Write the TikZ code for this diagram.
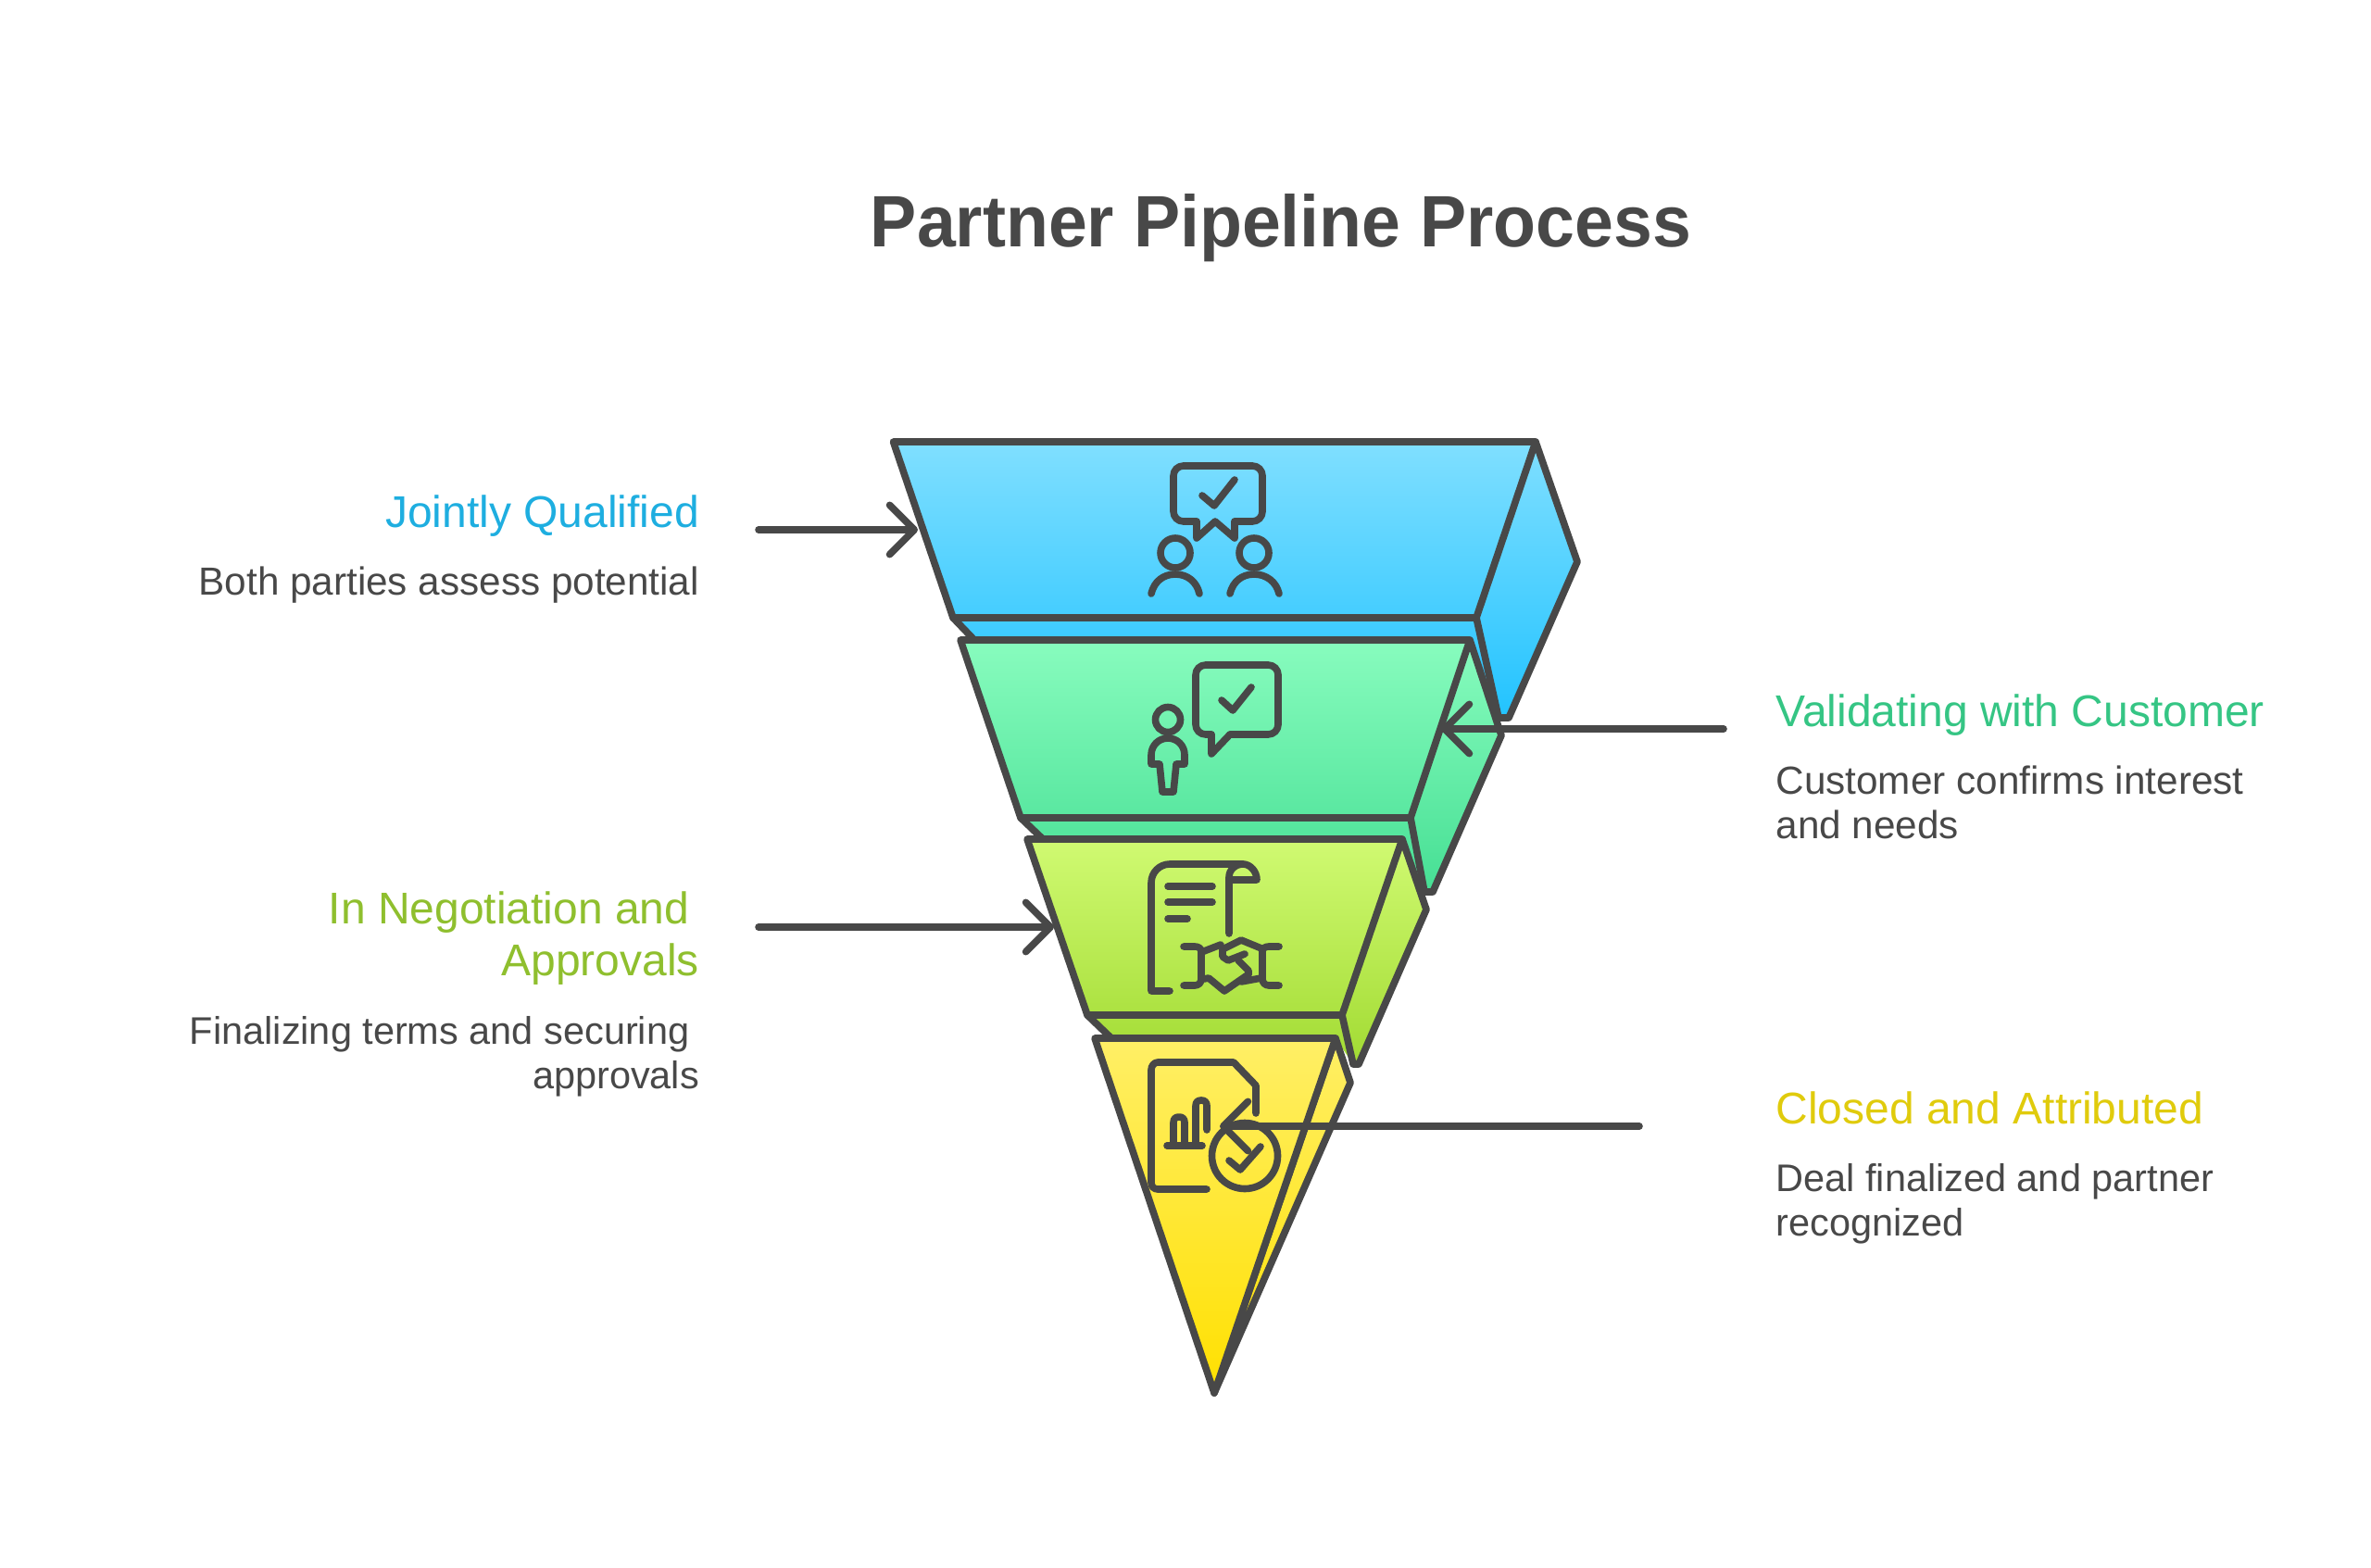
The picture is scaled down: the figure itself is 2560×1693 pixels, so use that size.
\documentclass[tikz,border=0pt]{standalone}
\usepackage{fontspec}
\setmainfont{Liberation Sans}
\newfontfamily\titlefont[FakeStretch=0.956]{Liberation Sans}
\usetikzlibrary{arrows.meta}
\definecolor{ink}{HTML}{484848}
\definecolor{cblue}{HTML}{1EAEE0}
\definecolor{cgreen}{HTML}{35C584}
\definecolor{clime}{HTML}{8FBF2E}
\definecolor{cyellow}{HTML}{E0CB0C}
\definecolor{bA}{HTML}{80DFFF}\definecolor{bB}{HTML}{22C3FF}
\definecolor{gA}{HTML}{88FCBE}\definecolor{gB}{HTML}{46DF94}
\definecolor{lA}{HTML}{D0FA72}\definecolor{lB}{HTML}{A2DB33}
\definecolor{yA}{HTML}{FFEF66}\definecolor{yB}{HTML}{FFE000}
\tikzset{
  edge/.style={draw=ink,line width=2.85pt,line join=round,line cap=round},
  ico/.style={draw=ink,line width=2.85pt,line join=round,line cap=round},
  lead/.style={draw=ink,line width=2.85pt,line cap=round,-{Straight Barb[length=10pt,width=20pt,round]}},
  head/.style={font=\fontsize{18pt}{20.8pt}\selectfont,inner sep=0pt},
  body/.style={text=ink,font=\fontsize{15.85pt}{17.7pt}\selectfont,inner sep=0pt},
  bodyb/.style={text=ink,font=\fontsize{15.55pt}{17.7pt}\selectfont,inner sep=0pt},
}
\newcommand{\gpoly}[5]{\begin{scope}\clip #1;\shade[top color=#2,bottom color=#3] (900,#4) rectangle (1800,#5);\end{scope}}
\begin{document}
\begin{tikzpicture}[x=0.375pt,y=-0.375pt]
\useasboundingbox (0,0) rectangle (2560,1693);
\fill[white] (0,0) rectangle (2560,1693);
% ---- blue
\def\pa{(1029,667) -- (1052,691) -- (1587,691) -- (1619,775) -- (1629,775) -- (1703,606.5) -- (1658,477) -- (1594,667) -- cycle}
\gpoly{\pa}{bA}{bB}{477}{775}
\draw[edge] (1029,667) -- (1052,691);
\draw[edge] (1658,477) -- (1703,606.5) -- (1629,775) -- (1618,775) -- (1594,667);
\def\pb{(964.5,477) -- (1658,477) -- (1594,667) -- (1029,667) -- cycle}
\gpoly{\pb}{bA}{bB}{477}{775}
\draw[edge] \pb;
% ---- green
\def\pa{(1102,883) -- (1126,906) -- (1514,906) -- (1538,963) -- (1547,963) -- (1621,794) -- (1587,691) -- (1523,883) -- cycle}
\gpoly{\pa}{gA}{gB}{691}{963}
\draw[edge] (1102,883) -- (1126,906);
\draw[edge] (1587,691) -- (1621,794) -- (1547,963) -- (1538,963) -- (1523,883);
\def\pb{(1037,691) -- (1587,691) -- (1523,883) -- (1102,883) -- cycle}
\gpoly{\pb}{gA}{gB}{691}{963}
\draw[edge] \pb;
% ---- lime
\def\pa{(1174,1096) -- (1200,1121) -- (1442,1121) -- (1461,1149) -- (1467,1149) -- (1540,982) -- (1514,906) -- (1449,1096) -- cycle}
\gpoly{\pa}{lA}{lB}{906}{1149}
\draw[edge] (1174,1096) -- (1200,1121);
\draw[edge] (1514,906) -- (1540,982) -- (1467,1149) -- (1461,1149) -- (1449,1096);
\def\pb{(1109,906) -- (1514,906) -- (1449,1096) -- (1174,1096) -- cycle}
\gpoly{\pb}{lA}{lB}{906}{1149}
\draw[edge] \pb;
% ---- yellow
\def\pa{(1442,1121) -- (1458,1169) -- (1311,1504) -- cycle}
\gpoly{\pa}{yA}{yB}{1121}{1504}
\draw[edge] \pa;
\def\pb{(1182,1121) -- (1442,1121) -- (1311,1504) -- cycle}
\gpoly{\pb}{yA}{yB}{1121}{1504}
\draw[edge] \pb;
% ---- icon 1
\draw[ico,rounded corners=4pt] (1292,563) -- (1267,563) -- (1267,503) -- (1363,503) -- (1363,563) -- (1333,563);
\draw[ico] (1292,563) -- (1292,581) -- (1312,563) -- (1333,581) -- (1333,563);
\draw[ico] (1298,535) -- (1311,546) -- (1333,518);
\draw[ico] (1269,597) circle[radius=16];
\draw[ico] (1354,597) circle[radius=16];
\draw[ico] (1243,641) .. controls (1246,628) and (1256,620) .. (1269,620) .. controls (1282,620) and (1292,628) .. (1295,641);
\draw[ico] (1328,641) .. controls (1331,628) and (1341,620) .. (1354,620) .. controls (1367,620) and (1378,628) .. (1381,641);
% ---- icon 2
\draw[ico,rounded corners=4pt] (1308,793) -- (1291,793) -- (1291,718) -- (1380,718) -- (1380,793) -- (1328,793);
\draw[ico] (1308,793) -- (1308,814) -- (1328,793);
\draw[ico] (1319,756) -- (1331,767) -- (1351,742);
\draw[ico] (1261,777) circle[radius=13.5];
\draw[ico] (1243,825) -- (1243,815) .. controls (1243,805) and (1251,797) .. (1261,797) .. controls (1271,797) and (1279,805) .. (1279,815) -- (1279,825) -- (1270,825) -- (1267,855) -- (1255,855) -- (1252,825) -- cycle;
% ---- icon 3
\draw[ico] (1263,1070) -- (1243,1070) -- (1243,953) .. controls (1243,942) and (1252,933) .. (1263,933) -- (1342,933) .. controls (1350,933) and (1357,941) .. (1357,950) -- (1327,950);
\draw[ico] (1327,1008) -- (1327,947) .. controls (1327,939) and (1334,933) .. (1342,933);
\draw[ico] (1261,957) -- (1309,957);
\draw[ico] (1261,974) -- (1309,974);
\draw[ico] (1261,992) -- (1282,992);
\draw[ico] (1278,1022) -- (1290,1022) .. controls (1294,1022) and (1297,1024) .. (1297,1027) -- (1297,1057) .. controls (1297,1061) and (1294,1064) .. (1290,1064) -- (1278,1064);
\draw[ico] (1381,1022) -- (1370,1022) .. controls (1366,1022) and (1363,1024) .. (1363,1027) -- (1363,1057) .. controls (1363,1061) and (1366,1064) .. (1370,1064) -- (1381,1064);
\draw[ico] (1300,1027) -- (1318,1020);
\draw[ico] (1362,1024) -- (1340,1015) -- (1320,1025) -- (1320,1033) -- (1326,1037) -- (1344,1030);
\draw[ico] (1337,1037) -- (1348,1048) -- (1348,1052);
\draw[ico] (1300,1057) -- (1305,1056) -- (1322,1070) -- (1348,1052);
\draw[ico] (1340,1060) -- (1362,1056);
% ---- icon 4
\draw[ico] (1303,1284) -- (1250,1284) .. controls (1246,1284) and (1243,1281) .. (1243,1277) -- (1243,1155) .. controls (1243,1151) and (1246,1147) .. (1250,1147) -- (1332,1147) -- (1356,1172) -- (1356,1202);
\draw[ico] (1260,1237) -- (1298,1237);
\draw[ico] (1267,1235) -- (1267,1212) .. controls (1267,1208) and (1269,1206) .. (1273,1206) .. controls (1277,1206) and (1279,1208) .. (1279,1212) -- (1279,1235);
\draw[ico] (1291,1235) -- (1291,1194) .. controls (1291,1190) and (1293,1188) .. (1297,1188) .. controls (1301,1188) and (1303,1190) .. (1303,1194) -- (1303,1220);
\draw[ico] (1344,1248) circle[radius=35.5];
\draw[ico] (1327,1253) -- (1339,1263) -- (1361,1238);
% ---- text
\node[font=\fontsize{29.5pt}{34pt}\titlefont\bfseries\selectfont,text=ink,inner sep=0pt,anchor=base] (title) at (1383,267) {Partner Pipeline Process};
\node[head,text=cblue,anchor=base east] (t1) at (755.5,569) {Jointly Qualified};
\node[body,anchor=base east] (d1) at (755.5,642) {Both parties assess potential};
\node[head,text=cgreen,anchor=base west] (t2) at (1917,784) {Validating with Customer};
\node[body,anchor=base west,align=left] (d2) at (1917,905) {Customer confirms interest\\and needs};
\node[head,text=clime,anchor=base east,align=right] (t3) at (755.5,1053) {In Negotiation and\hspace*{4pt}\\Approvals};
\node[bodyb,anchor=base east,align=right] (d3) at (755.5,1175) {Finalizing terms and securing\hspace*{4pt}\\approvals};
\node[head,text=cyellow,anchor=base west] (t4) at (1917,1213) {Closed and Attributed};
\node[bodyb,anchor=base west,align=left] (d4) at (1917,1334) {Deal finalized and partner\\recognized};
% ---- connectors
\coordinate (a1) at (819,572); \coordinate (b1) at (991,572);
\coordinate (a2) at (1861,787); \coordinate (b2) at (1556,787);
\coordinate (a3) at (819,1001); \coordinate (b3) at (1138,1001);
\coordinate (a4) at (1770,1216); \coordinate (b4) at (1317,1216);
\draw[lead] (a1) -- (b1);
\draw[lead] (a2) -- (b2);
\draw[lead] (a3) -- (b3);
\draw[lead] (a4) -- (b4);
\end{tikzpicture}
\end{document}
